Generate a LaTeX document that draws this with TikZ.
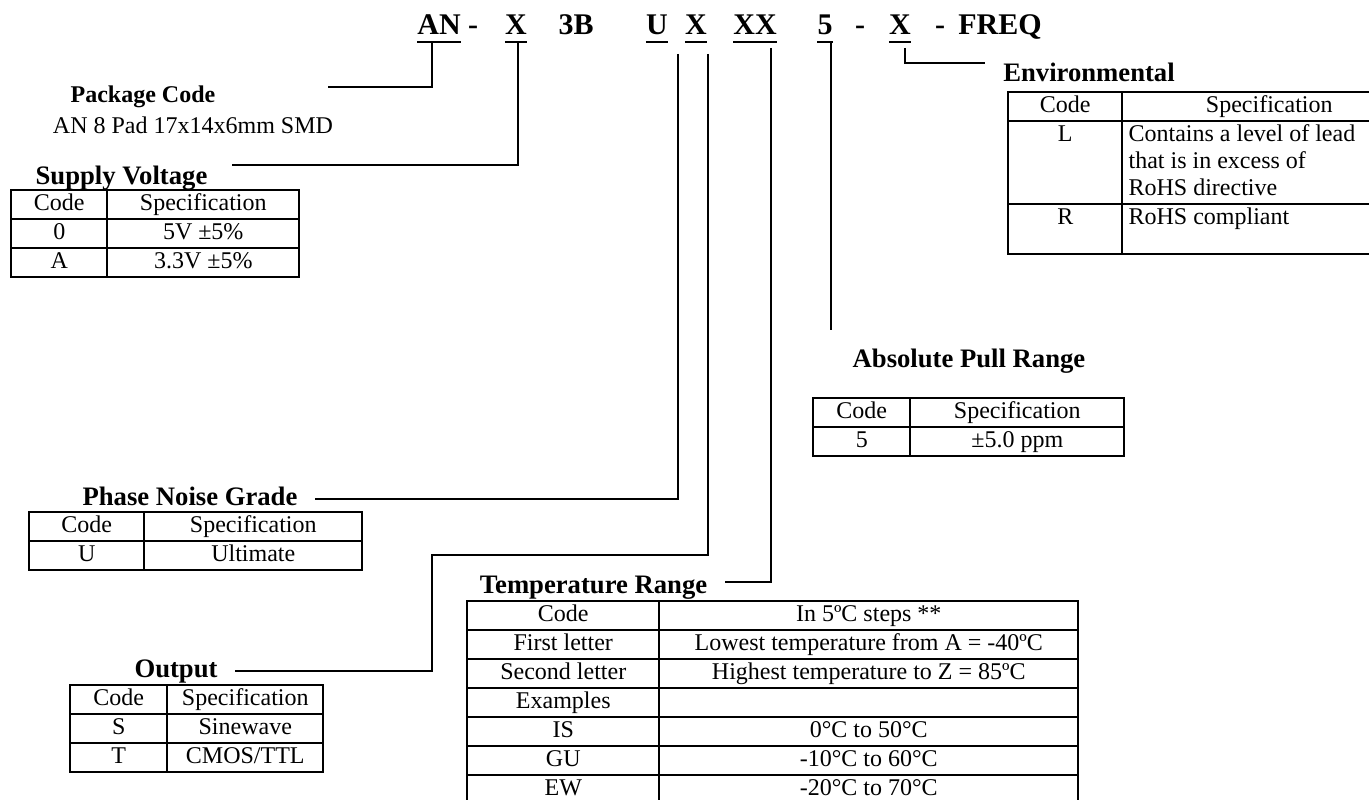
\documentclass[tikz,border=0pt]{standalone}
\usepackage{fontspec}
\setmainfont{Liberation Serif}
\usepackage{array}
\usetikzlibrary{calc}

\setlength{\arrayrulewidth}{1.5pt}
\setlength{\tabcolsep}{0pt}
\newcommand{\codetab}[3]{%
  \begin{tabular}{|>{\centering\arraybackslash}p{#1}|>{\centering\arraybackslash}p{#2}|}
  \hline #3
  \end{tabular}}

\begin{document}
\begin{tikzpicture}[
    x=0.75pt, y=-0.75pt,
    font=\fontsize{18pt}{20.25pt}\selectfont,
    partno/.style={anchor=base, inner sep=0pt, font=\fontsize{22.5pt}{27pt}\selectfont\bfseries},
    head/.style={anchor=base, inner sep=0pt, font=\fontsize{20pt}{24pt}\selectfont\bfseries},
    tab/.style={anchor=north west, inner sep=0pt},
    link/.style={line width=1.7pt},
    uline/.style={line width=2.2pt}
]
\useasboundingbox (0,0) rectangle (1369,799);
\clip (0,0) rectangle (1369,799);

% part number
\node[partno] (an) at (439,35) {AN};
\node[partno] (dash1) at (473,35) {-};
\node[partno] (xsup) at (516,35) {X};
\node[partno] (tb) at (576,35) {3B};
\node[partno] (uph) at (657,35) {U};
\node[partno] (xout) at (696,35) {X};
\node[partno] (xxt) at (755,35) {XX};
\node[partno] (five) at (825,35) {5};
\node[partno] (dash2) at (860,35) {-};
\node[partno] (xenv) at (900,35) {X};
\node[partno] (dash3) at (940,35) {-};
\node[partno] (freq) at (1000,35) {FREQ};
\foreach \n in {an,xsup,uph,xout,xxt,five,xenv}
  \draw[uline] ($(\n.base west)+(0,7)$) -- ($(\n.base east)+(0,7)$);

% headings
\node[anchor=base, inner sep=0pt, font=\fontsize{18pt}{20.25pt}\selectfont\bfseries] (pkg) at (143,103) {Package Code};
\node[anchor=base, inner sep=0pt] (pkgdesc) at (193,133) {AN 8 Pad 17x14x6mm SMD};
\node[head] (suphead) at (121.5,184) {Supply Voltage};
\node[head] (phhead) at (190,505) {Phase Noise Grade};
\node[head] (outhead) at (176,677) {Output};
\node[head] (temphead) at (593.5,593) {Temperature Range};
\node[head] (pullhead) at (969,367) {Absolute Pull Range};
\node[head] (envhead) at (1089,81) {Environmental};

% tables
\node[tab] (suptab) at (10,189) {\codetab{70.5pt}{142.5pt}{%
  Code & Specification \\ \hline
  0 & 5V ±5\% \\ \hline
  A & 3.3V ±5\% \\ \hline}};
\node[tab] (phtab) at (28,511) {\codetab{84.75pt}{162pt}{%
  Code & Specification \\ \hline
  U & Ultimate \\ \hline}};
\node[tab] (outtab) at (69,684) {\codetab{71.25pt}{115.5pt}{%
  Code & Specification \\ \hline
  S & Sinewave \\ \hline
  T & CMOS/TTL \\ \hline}};
\node[tab] (pulltab) at (812,397) {\codetab{71.25pt}{159pt}{%
  Code & Specification \\ \hline
  5 & ±5.0 ppm \\ \hline}};
\node[tab] (temptab) at (466,600) {\codetab{142.5pt}{312.75pt}{%
  Code & In 5ºC steps ** \\ \hline
  First letter & Lowest temperature from A = -40ºC \\ \hline
  Second letter & Highest temperature to Z = 85ºC \\ \hline
  Examples & \\ \hline
  IS & 0°C to 50°C \\ \hline
  GU & -10°C to 60°C \\ \hline
  EW & -20°C to 70°C \\ \hline}};
\node[tab] (envtab) at (1007,91) {%
  \begin{tabular}{|>{\centering\arraybackslash}p{84pt}|>{\raggedright\arraybackslash\leftskip=4pt}p{219pt}|}
  \hline
  Code & \centering\arraybackslash Specification \\ \hline
  L & Contains a level of lead\newline that is in excess of\newline RoHS directive \\ \hline
  R & RoHS compliant\rule[-21.8pt]{0pt}{10pt} \\ \hline
  \end{tabular}};

% connectors
\coordinate (pkgend) at (328,87);
\coordinate (supend) at (232,165);
\coordinate (phend) at (315,499);
\coordinate (outbend) at (432,555);
\coordinate (outend) at (235,671);
\coordinate (tempend) at (725,582);
\coordinate (pullend) at (831,330);
\coordinate (envend) at (985,63);

\draw[link] ($(an.base)+(-7,8)$) |- (pkgend);
\draw[link] ($(xsup.base)+(2,8)$) |- (supend);
\draw[link] ($(uph.base)+(21,19)$) |- (phend);
\draw[link] ($(xout.base)+(12,19)$) |- (outbend) |- (outend);
\draw[link] ($(xxt.base)+(16,13)$) |- (tempend);
\draw[link] ($(five.base)+(6,8)$) -- (pullend);
\draw[link] ($(xenv.base)+(5,13)$) |- (envend);
\end{tikzpicture}
\end{document}
